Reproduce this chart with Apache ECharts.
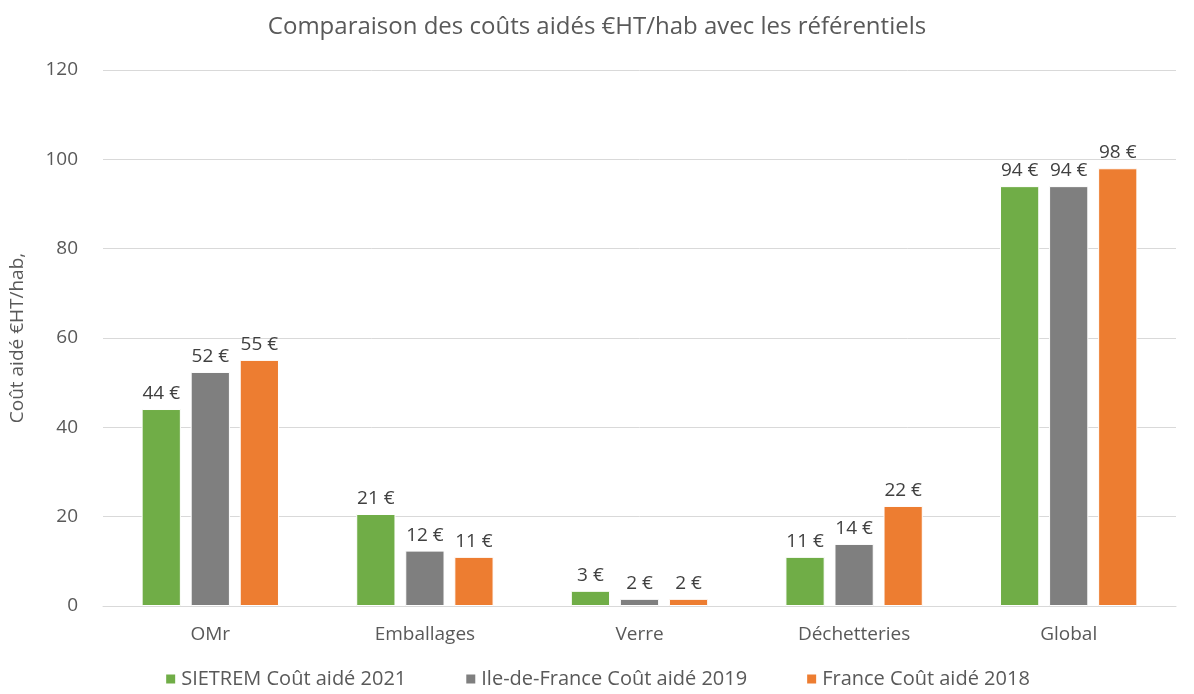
<!DOCTYPE html>
<html>
<head>
<meta charset="utf-8">
<script src="https://cdn.jsdelivr.net/npm/echarts@6/dist/echarts.min.js"></script>
<style>html,body{margin:0;padding:0;background:#fff;}#c{width:1194px;height:694px;}</style>
</head>
<body>
<div id="c"></div>
<script>
const categories = ['OMr', 'Emballages', 'Verre', 'Déchetteries', 'Global'];
const sietrem2021 = [44.1, 20.6, 3.4, 11.0, 94.0];
const idf2019 = [52.4, 12.4, 1.6, 13.9, 94.0];
const france2018 = [55.1, 11.0, 1.6, 22.4, 98.0];
const seriesNames = ['SIETREM Coût aidé 2021', 'Ile-de-France Coût aidé 2019', 'France Coût aidé 2018'];
const colors = ['#70AD47', '#7F7F7F', '#ED7D31'];

const font = '"Open Sans", sans-serif';
const chart = echarts.init(document.getElementById('c'));
const mk = (name, data, color) => ({
  name, type: 'bar', data,
  barGap: '25%', barCategoryGap: '36%',
  itemStyle: { color, borderColor: '#fff', borderWidth: 1 },
  label: { show: true, position: 'top', distance: 6, color: '#404040', fontSize: 19, fontFamily: font,
    formatter: p => Math.round(p.value) + ' €' }
});
chart.setOption({
  animation: false,
  backgroundColor: '#fff',
  title: { text: 'Comparaison des coûts aidés €HT/hab avec les référentiels', left: 'center', top: 10,
    textStyle: { color: '#595959', fontSize: 24, fontWeight: 'normal', fontFamily: font } },
  legend: { bottom: 0, left: 'center', itemWidth: 11, itemHeight: 11, itemGap: 58, icon: 'rect',
    textStyle: { color: '#595959', fontSize: 20, fontFamily: font } },
  grid: { left: 98, right: 18, top: 70, bottom: 88 },
  xAxis: { type: 'category', data: categories,
    axisLine: { lineStyle: { color: '#D9D9D9' } }, axisTick: { show: false },
    axisLabel: { color: '#595959', fontSize: 19, fontFamily: font, margin: 19 } },
  yAxis: { type: 'value', min: 0, max: 120, interval: 20,
    name: 'Coût aidé €HT/hab,', nameLocation: 'middle', nameGap: 76, nameRotate: 90,
    nameTextStyle: { color: '#595959', fontSize: 19, fontFamily: font },
    axisLine: { show: false }, axisTick: { show: false },
    splitLine: { lineStyle: { color: '#D9D9D9' } },
    axisLabel: { color: '#595959', fontSize: 19, fontFamily: font, margin: 25 } },
  series: [mk(seriesNames[0], sietrem2021, colors[0]), mk(seriesNames[1], idf2019, colors[1]), mk(seriesNames[2], france2018, colors[2])]
});
</script>
</body>
</html>
